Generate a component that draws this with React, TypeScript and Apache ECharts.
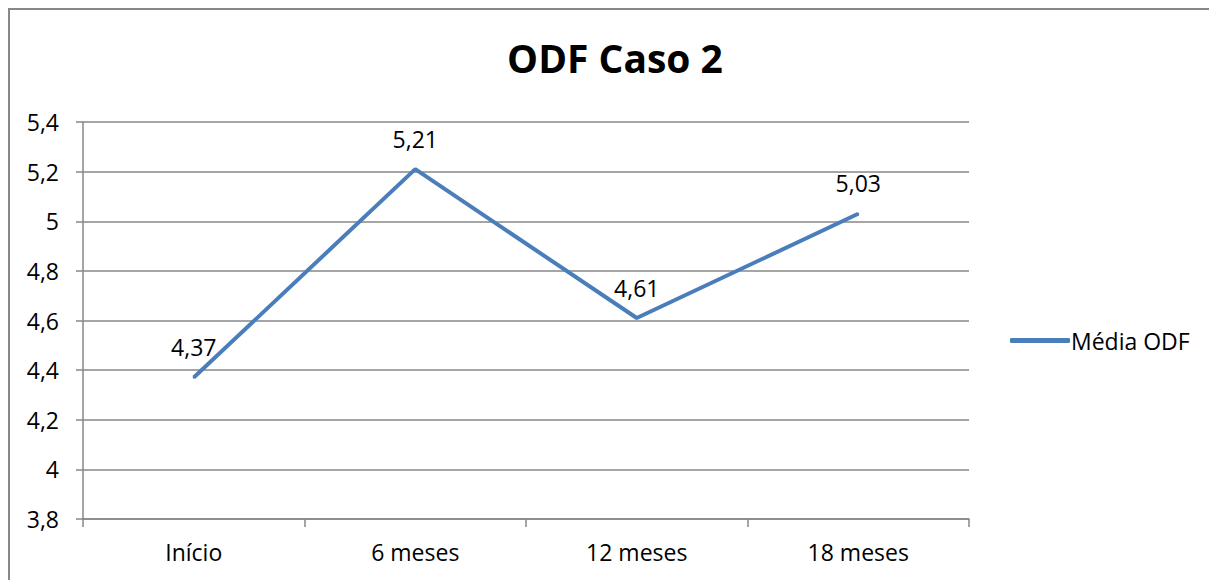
import React, { useEffect, useRef } from "react";
import * as echarts from "echarts";

const categories = ["Início", "6 meses", "12 meses", "18 meses"];
const mediaODF = [4.37, 5.21, 4.61, 5.03];
const seriesName = "Média ODF";
const titleText = "ODF Caso 2";

export default function App() {
  const ref = useRef<HTMLDivElement>(null);
  useEffect(() => {
    const chart = echarts.init(ref.current!, null, { renderer: "svg" });
    const font = "'Open Sans', 'Noto Sans', sans-serif";
    chart.setOption({
      animation: false,
      textStyle: { fontFamily: font },
      title: {
        text: titleText,
        left: 602,
        top: 25,
        textAlign: "center",
        textStyle: { fontFamily: font, fontWeight: "bold", fontSize: 39, color: "#000" },
      },
      graphic: [
        {
          type: "rect",
          shape: { x: 1, y: 1, width: 1206, height: 620 },
          style: { fill: "none", stroke: "#878787", lineWidth: 2 },
          silent: true,
        },
      ],
      legend: {
        left: 997,
        top: 316,
        itemWidth: 60,
        itemHeight: 5,
        itemGap: 0,
        icon: "roundRect",
        textStyle: { fontFamily: font, fontSize: 23, color: "#000", padding: [0, 0, 0, -4] },
        data: [seriesName],
      },
      grid: { left: 75, right: 248, top: 114, bottom: 61 },
      xAxis: {
        type: "category",
        data: categories,
        boundaryGap: true,
        axisLine: { lineStyle: { color: "#878787", width: 1.5 } },
        axisTick: { show: true, length: 8, alignWithLabel: false, lineStyle: { color: "#878787", width: 1.5 } },
        axisLabel: { color: "#000", fontSize: 23, margin: 21, fontFamily: font },
      },
      yAxis: {
        type: "value",
        min: 3.8,
        max: 5.4,
        interval: 0.2,
        axisLine: { show: true, lineStyle: { color: "#878787", width: 1.5 } },
        axisTick: { show: true, length: 7, lineStyle: { color: "#878787", width: 1.5 } },
        splitLine: { lineStyle: { color: "#878787", width: 1.5 } },
        axisLabel: {
          color: "#000",
          fontSize: 23,
          margin: 24,
          fontFamily: font,
          formatter: (v: number) => String(Math.round(v * 10) / 10).replace(".", ","),
        },
      },
      series: [
        {
          name: seriesName,
          type: "line",
          data: mediaODF,
          showSymbol: true,
          symbol: "circle",
          symbolSize: 2,
          lineStyle: { color: "#4a7ebb", width: 4 },
          itemStyle: { color: "#4a7ebb" },
          label: {
            show: true,
            position: "top",
            distance: 18,
            color: "#000",
            fontSize: 23,
            fontFamily: font,
            formatter: (p: any) => String(p.value).replace(".", ","),
          },
        },
      ],
    });
    return () => chart.dispose();
  }, []);
  return <div ref={ref} style={{ width: 1209, height: 572 }} />;
}
